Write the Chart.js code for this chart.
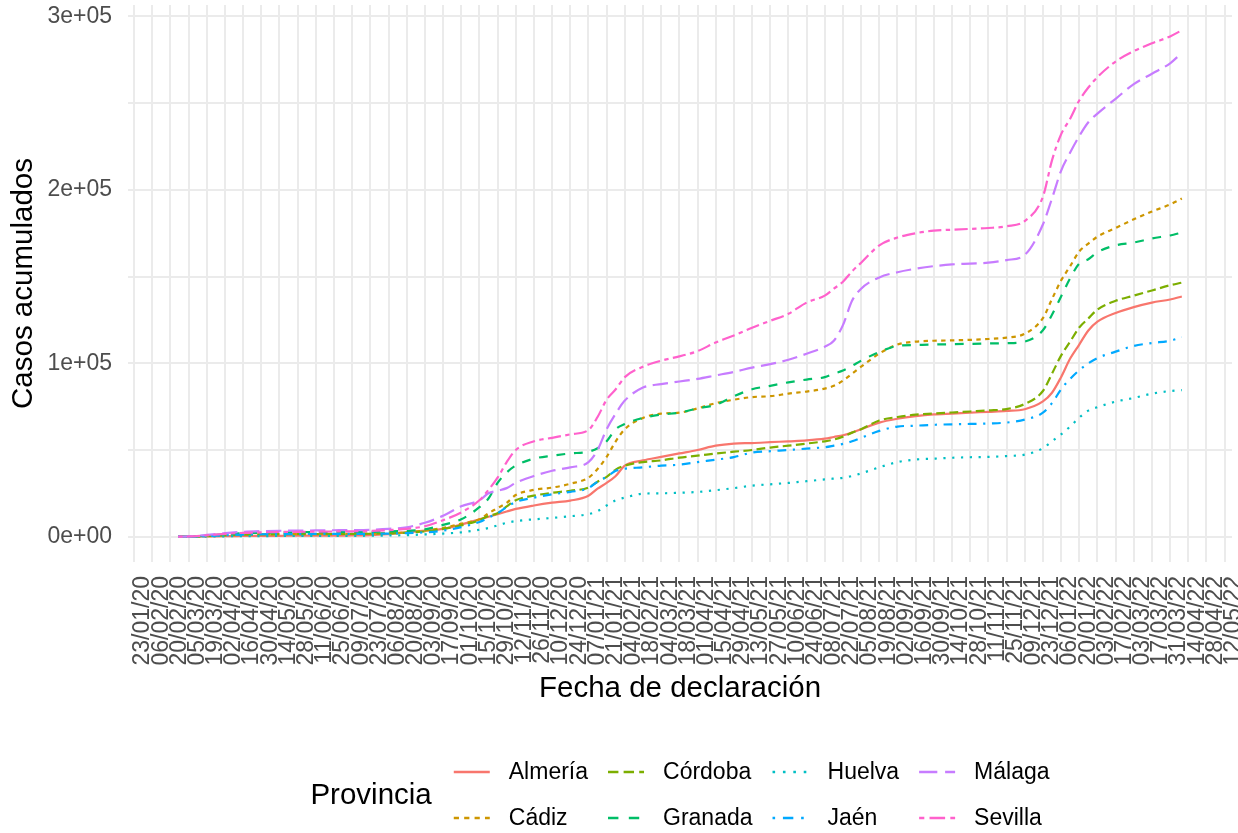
<!DOCTYPE html>
<html>
<head>
<meta charset="utf-8">
<script src="https://cdn.jsdelivr.net/npm/chart.js@4.4.1/dist/chart.umd.min.js"></script>
<style>
html,body{margin:0;padding:0;background:#fff;overflow:hidden}
canvas{display:block}
</style>
</head>
<body>
<canvas id="c" width="1238" height="833"></canvas>
<script>
const FONT = '"Liberation Sans", Arial, Helvetica, sans-serif';

// Sample dates (YYYY-MM-DD)
const dates = ['2020-02-26','2020-03-05','2020-03-19','2020-04-02','2020-04-16','2020-04-30','2020-05-14','2020-05-28','2020-06-11','2020-06-25',
'2020-07-09','2020-07-23','2020-08-06','2020-08-20','2020-09-03','2020-09-17','2020-10-01','2020-10-15','2020-10-22','2020-10-29',
'2020-11-05','2020-11-12','2020-11-26','2020-12-10','2020-12-24','2021-01-07','2021-01-14','2021-01-21','2021-01-28','2021-02-04',
'2021-02-18','2021-03-04','2021-03-18','2021-04-01','2021-04-15','2021-04-29','2021-05-13','2021-05-27','2021-06-10','2021-06-24',
'2021-07-08','2021-07-15','2021-07-22','2021-07-29','2021-08-05','2021-08-19','2021-09-02','2021-09-16','2021-09-30','2021-10-14',
'2021-10-28','2021-11-11','2021-11-25','2021-12-09','2021-12-23','2021-12-30','2022-01-06','2022-01-13','2022-01-20','2022-01-27',
'2022-02-03','2022-02-17','2022-03-03','2022-03-17','2022-03-31','2022-04-09'];

// X tick labels (dd/mm/yy)
const tickLabels = ['23/01/20','06/02/20','20/02/20','05/03/20','19/03/20','02/04/20','16/04/20','30/04/20','14/05/20','28/05/20',
'11/06/20','25/06/20','09/07/20','23/07/20','06/08/20','20/08/20','03/09/20','17/09/20','01/10/20','15/10/20',
'29/10/20','12/11/20','26/11/20','10/12/20','24/12/20','07/01/21','21/01/21','04/02/21','18/02/21','04/03/21',
'18/03/21','01/04/21','15/04/21','29/04/21','13/05/21','27/05/21','10/06/21','24/06/21','08/07/21','22/07/21',
'05/08/21','19/08/21','02/09/21','16/09/21','30/09/21','14/10/21','28/10/21','11/11/21','25/11/21','09/12/21',
'23/12/21','06/01/22','20/01/22','03/02/22','17/02/22','03/03/22','17/03/22','31/03/22','14/04/22','28/04/22','12/05/22'];

// Y ticks
const yTickValues = [0, 50000, 100000, 150000, 200000, 250000, 300000];
const yTickLabels = ['0e+00', '', '1e+05', '', '2e+05', '', '3e+05'];

const provinces = ['Almería','Cádiz','Córdoba','Granada','Huelva','Jaén','Málaga','Sevilla'];

// Cumulative cases, in thousands
const almeria = [0,0.01,0.1,0.3,0.4,0.5,0.5,0.6,0.6,0.6,0.7,0.9,1.5,2.5,3.5,4.5,7,10,11.5,13,14.5,16,18,19.6,20.8,23.6,27.7,31,35,41,44,46,48,50,52.5,53.7,54,54.5,55,55.5,56.5,57.5,58.5,60,62,65.8,68,69.5,70.5,71,71.5,72,72.5,73.5,78,83,92,102.7,110.8,118.9,124,129,132.4,135,136.8,138.5];
const cadiz = [0,0.05,0.4,0.9,1.2,1.4,1.5,1.5,1.6,1.6,1.7,1.8,2.0,2.5,3.5,5,7.5,10,13.5,16.5,19.5,24,27,28.3,30.5,34,39,46,55,62,68.5,71,71.5,74,77,79,80.5,81,82.5,83.7,85.4,87,90,94,98,105.6,110.8,112.5,113,113.2,113.5,114,114.8,117,126,137,147.7,156,164.5,169,173,178,183,187.5,191.6,195];
const cordoba = [0,0.02,0.3,0.8,1.1,1.3,1.4,1.5,1.5,1.5,1.6,1.7,1.9,2.3,3.0,4.5,6.5,9.5,12,13.5,17.5,21,23.7,25.3,26.5,28.3,31.7,34.5,38.7,41,43,44,45.6,46.7,47.9,49,50,51.4,52.5,53.7,55,56,57.7,60,62,67,69,70.4,71,71.6,72.2,72.8,73.6,76.5,84,94,104.4,112.5,120.6,125.8,131,136,139,142,145,146.5];
const granada = [0,0.05,0.6,1.4,2.0,2.3,2.5,2.6,2.6,2.7,2.7,2.8,3.0,3.4,4.2,6.8,10,17,22,31,37,41,45,46.7,48,49,51,55,62,65,68.5,70.4,71.5,74,76,81,85,87,89,90.6,92,94,95.8,98.5,101.5,106.5,110,110.5,110.8,111,111.2,111.4,111.6,112.5,119,128,138.5,149,157.5,160,164,168,169.6,172,173.7,175.4];
const huelva = [0,0.01,0.1,0.2,0.3,0.35,0.4,0.4,0.45,0.5,0.5,0.55,0.7,0.9,1.3,1.8,2.5,4,5,6.5,8,9,10,10.8,11.8,13,14.7,18,21,22.5,24.8,25,25.3,25.8,26.8,28,29.4,30.2,31,32,33,33.5,34,35,36.5,40,43,44.5,45,45.5,45.8,46,46.5,47.3,51,55,59,63.5,68.7,72.7,74.7,77.9,80,82.5,84,84.5];
const jaen = [0,0.01,0.3,0.8,1.2,1.4,1.5,1.5,1.6,1.6,1.6,1.7,1.8,2.0,2.5,3.5,5.5,8.5,11,13.5,17,20,22.5,24.5,25.8,28,31.7,34.6,38,39.2,40,41,41.5,43,44.4,45.9,48.5,49.3,50,50.8,51.6,52.5,53.5,55,57,61,63.5,64,64.5,64.8,65,65.3,65.8,67.5,71.5,77,85,91,96,100,103,106.7,110,111.7,113,115];
const malaga = [0,0.2,1.0,2.0,2.8,3.2,3.4,3.5,3.6,3.7,3.8,4.0,4.5,5.4,8,12,17.5,21,25,26.5,28,31,35,38,40,43,50,62,71,78.5,86,88,89.5,91,93,95,97.5,99.5,102,105.5,109.5,113,122,136,143,149.5,152.5,154.5,156,157,157.5,158,159.5,162.5,180,195,211,221.5,231,239,244,252.5,261,267,273,279];
const sevilla = [0,0.1,0.8,1.6,2.2,2.5,2.7,2.8,2.9,3.0,3.1,3.3,3.8,4.5,6.0,9.5,14,21,27,34,43,50,55,57,59,61.5,69,79,85,92,98,101.5,104,107,112,116,120.5,124.5,128.5,135,139,143,147,153,158,168,172.5,175,176.5,177,177.5,178,179,182,196,217,232,241,251.5,259,265,274,280,284.5,288.5,292];
const UNIT = 1000;

const series = [almeria, cadiz, cordoba, granada, huelva, jaen, malaga, sevilla];
const colors = ['#F8766D','#CD9600','#7CAE00','#00BE67','#00BFC4','#00A9FF','#C77CFF','#FF61CC'];
// ggplot linetypes: solid, 22, 42, 44, 13, 1343, 73, 2262
const dashUnits = [[], [2,2], [4,2], [4,4], [1,3], [1,3,4,3], [7,3], [2,2,6,2]];
const LW = 2.2;

const DAY = 86400000;
function dayOfIso(s) { const p = s.split('-').map(Number); return Date.UTC(p[0], p[1]-1, p[2]) / DAY; }
function dayOfLabel(s) { const p = s.split('/').map(Number); return Date.UTC(2000 + p[2], p[1]-1, p[0]) / DAY; }

const xDays = dates.map(dayOfIso);
const tickDays = tickLabels.map(dayOfLabel);
const xRange = xDays[xDays.length-1] - xDays[0];
const xMin = xDays[0] - 0.05 * xRange;
const xMax = xDays[xDays.length-1] + 0.05 * xRange;
let yDataMax = 0;
series.forEach(s => s.forEach(v => { if (v*UNIT > yDataMax) yDataMax = v*UNIT; }));
const yMin = -0.05 * yDataMax;
const yMax = yDataMax * 1.05;

const datasets = provinces.map((name, i) => ({
  label: name,
  data: series[i].map((v, j) => ({x: xDays[j], y: v * UNIT})),
  borderColor: colors[i],
  backgroundColor: colors[i],
  borderWidth: LW,
  borderDash: dashUnits[i].map(u => u * LW),
  borderCapStyle: 'butt',
  borderJoinStyle: 'round',
  pointRadius: 0,
  cubicInterpolationMode: 'monotone',
  fill: false,
  order: provinces.length - i
}));

const legendPlugin = {
  id: 'ggLegend',
  afterDraw(chart) {
    const ctx = chart.ctx;
    const ds = chart.data.datasets;
    ctx.save();
    const labelFont = '23px ' + FONT;
    const titleFont = '29.5px ' + FONT;
    const nrow = 2, ncol = 4;
    const keyW = 36, keyGap = 19, colGap = 20, titleGap = 22;
    ctx.font = labelFont;
    const colW = [];
    for (let c = 0; c < ncol; c++) {
      let w = 0;
      for (let r = 0; r < nrow; r++) {
        const i = c * nrow + r;
        if (i < ds.length) w = Math.max(w, ctx.measureText(ds[i].label).width);
      }
      colW.push(w);
    }
    ctx.font = titleFont;
    const titleW = ctx.measureText('Provincia').width;
    let total = titleW + titleGap;
    colW.forEach((w, c) => { total += keyW + keyGap + w + (c < ncol - 1 ? colGap : 0); });
    const cx = (chart.chartArea.left + chart.chartArea.right) / 2;
    let x = cx - total / 2;
    const rowY = [772, 818];
    const midY = (rowY[0] + rowY[1]) / 2;
    ctx.fillStyle = '#000';
    ctx.textBaseline = 'middle';
    ctx.textAlign = 'left';
    ctx.fillText('Provincia', x, midY + 1);
    x += titleW + titleGap;
    for (let c = 0; c < ncol; c++) {
      for (let r = 0; r < nrow; r++) {
        const i = c * nrow + r;
        if (i >= ds.length) continue;
        const d = ds[i];
        ctx.beginPath();
        ctx.strokeStyle = d.borderColor;
        ctx.lineWidth = 2.6;
        ctx.lineCap = 'butt';
        ctx.setLineDash(dashUnits[i].map(u => u * 2.6));
        ctx.moveTo(x, rowY[r]);
        ctx.lineTo(x + keyW, rowY[r]);
        ctx.stroke();
        ctx.setLineDash([]);
        ctx.font = labelFont;
        ctx.fillStyle = '#000';
        ctx.fillText(d.label, x + keyW + keyGap, rowY[r] + 1);
      }
      x += keyW + keyGap + colW[c] + colGap;
    }
    ctx.restore();
  }
};

Chart.defaults.font.family = FONT;

new Chart(document.getElementById('c'), {
  type: 'line',
  data: { datasets },
  plugins: [legendPlugin],
  options: {
    responsive: false,
    animation: false,
    parsing: false,
    layout: { padding: { top: 5, right: 6, bottom: 121, left: 0 } },
    plugins: { legend: { display: false }, tooltip: { enabled: false } },
    scales: {
      x: {
        type: 'linear',
        min: xMin,
        max: xMax,
        afterBuildTicks: (s) => { s.ticks = tickDays.map(v => ({ value: v })); },
        afterFit: (s) => { s.height = 150; s.paddingLeft = 0; s.paddingRight = 0; },
        grid: { color: '#EBEBEB', lineWidth: 2, drawTicks: false },
        border: { display: false },
        ticks: {
          autoSkip: false, maxRotation: 90, minRotation: 90,
          padding: 14, labelOffset: 9,
          color: '#4D4D4D', font: { size: 23, family: FONT },
          callback: (v, i) => tickLabels[i]
        },
        title: {
          display: true, text: 'Fecha de declaración', color: '#000',
          font: { size: 29.5, family: FONT }, padding: { top: 0, bottom: 5 }
        }
      },
      y: {
        type: 'linear',
        min: yMin,
        max: yMax,
        afterBuildTicks: (s) => { s.ticks = yTickValues.map(v => ({ value: v })); },
        afterFit: (s) => { s.width = 128; s.paddingTop = 0; s.paddingBottom = 0; },
        grid: { color: '#EBEBEB', lineWidth: 2, drawTicks: false },
        border: { display: false },
        ticks: {
          padding: 16, color: '#4D4D4D', font: { size: 23, family: FONT },
          callback: (v, i) => yTickLabels[i]
        },
        title: {
          display: true, text: 'Casos acumulados', color: '#000',
          font: { size: 29.5, family: FONT }, padding: { top: 6, bottom: 0 }
        }
      }
    }
  }
});
</script>
</body>
</html>
